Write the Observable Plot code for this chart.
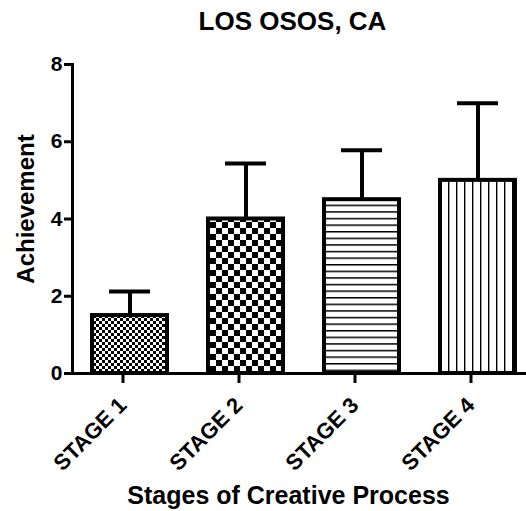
<!DOCTYPE html>
<html>
<head>
<meta charset="utf-8">
<script src="https://cdn.jsdelivr.net/npm/d3@7"></script>
<script src="https://cdn.jsdelivr.net/npm/@observablehq/plot@0.6"></script>
<style>
  html, body { margin: 0; padding: 0; background: white; }
  #chart svg { display: block; }
</style>
</head>
<body>
<div id="chart"></div>
<script>
const title = "LOS OSOS, CA";
const xTitle = "Stages of Creative Process";
const yTitle = "Achievement";
const stages = ["STAGE 1", "STAGE 2", "STAGE 3", "STAGE 4"];
const means = [1.5, 4.0, 4.5, 5.0];
const errors = [0.62, 1.44, 1.28, 2.0];
const patterns = ["url(#pat1)", "url(#pat2)", "url(#pat3)", "url(#pat4)"];
const yTicks = [0, 2, 4, 6, 8];

const data = stages.map((s, i) => ({
  stage: s,
  value: means[i],
  upper: means[i] + errors[i],
  pat: patterns[i]
}));

const font = "'Liberation Sans', Arial, Helvetica, sans-serif";

const plot = Plot.plot({
  width: 526,
  height: 511,
  marginTop: 64,
  marginBottom: 138,
  marginLeft: 72,
  marginRight: 0,
  style: { background: "white", fontFamily: font, color: "black" },
  x: { type: "band", domain: stages, range: [72, 535.7], paddingInner: 0.32, paddingOuter: 0.155 },
  y: { domain: [0, 8] },
  color: { type: "identity" },
  marks: [
    Plot.ruleX(data, { x: "stage", y1: "value", y2: "upper", stroke: "black", strokeWidth: 4 }),
    Plot.tickY(data, { x: "stage", y: "upper", stroke: "black", strokeWidth: 4, insetLeft: 19, insetRight: 19 }),
    Plot.barY(data, { x: "stage", y: "value", fill: "pat", stroke: "black", strokeWidth: 4, insetLeft: 2, insetRight: 2 }),
    Plot.frame({ anchor: "left", stroke: "black", strokeWidth: 3 }),
    Plot.axisY({ ticks: yTicks, tickSize: 8, tickPadding: 2, strokeWidth: 3, fontSize: 21, fontWeight: "bold", label: null }),
    Plot.ruleY([0], { stroke: "black", strokeWidth: 3 }),
    Plot.axisX({ tickSize: 10, tickPadding: 18, dx: -7, tickRotate: -45, strokeWidth: 3, fontSize: 22, fontWeight: "bold", label: null }),
    Plot.text([title], { frameAnchor: "top", dx: -7, dy: -35, lineAnchor: "bottom", fontSize: 26, fontWeight: "bold", fill: "black" }),
    Plot.text([xTitle], { frameAnchor: "bottom", dx: -11, dy: 130, lineAnchor: "bottom", fontSize: 25, fontWeight: "bold", fill: "black" }),
    Plot.text([yTitle], { frameAnchor: "left", rotate: -90, textAnchor: "middle", dx: -39, dy: -10, lineAnchor: "bottom", fontSize: 24, fontWeight: "bold", fill: "black" })
  ]
});

const svg = d3.select(plot);
const defs = svg.insert("defs", ":first-child");
// Stage 1: fine checker
const p1 = defs.append("pattern").attr("id", "pat1").attr("patternUnits", "userSpaceOnUse").attr("width", 6).attr("height", 6);
p1.append("rect").attr("width", 6).attr("height", 6).attr("fill", "white");
p1.append("rect").attr("width", 3).attr("height", 3).attr("fill", "black");
p1.append("rect").attr("x", 3).attr("y", 3).attr("width", 3).attr("height", 3).attr("fill", "black");
// Stage 2: coarse checker
const p2 = defs.append("pattern").attr("id", "pat2").attr("patternUnits", "userSpaceOnUse").attr("width", 12).attr("height", 12);
p2.append("rect").attr("width", 12).attr("height", 12).attr("fill", "white");
p2.append("rect").attr("width", 6).attr("height", 6).attr("fill", "black");
p2.append("rect").attr("x", 6).attr("y", 6).attr("width", 6).attr("height", 6).attr("fill", "black");
// Stage 3: horizontal lines
const p3 = defs.append("pattern").attr("id", "pat3").attr("patternUnits", "userSpaceOnUse").attr("width", 10).attr("height", 6.6);
p3.append("rect").attr("width", 10).attr("height", 6.6).attr("fill", "white");
p3.append("rect").attr("y", 0).attr("width", 10).attr("height", 1.5).attr("fill", "black");
// Stage 4: vertical lines
const p4 = defs.append("pattern").attr("id", "pat4").attr("patternUnits", "userSpaceOnUse").attr("width", 8).attr("height", 10);
p4.append("rect").attr("width", 8).attr("height", 10).attr("fill", "white");
p4.append("rect").attr("x", 0).attr("width", 1.4).attr("height", 10).attr("fill", "black");

document.getElementById("chart").appendChild(plot);
</script>
</body>
</html>
